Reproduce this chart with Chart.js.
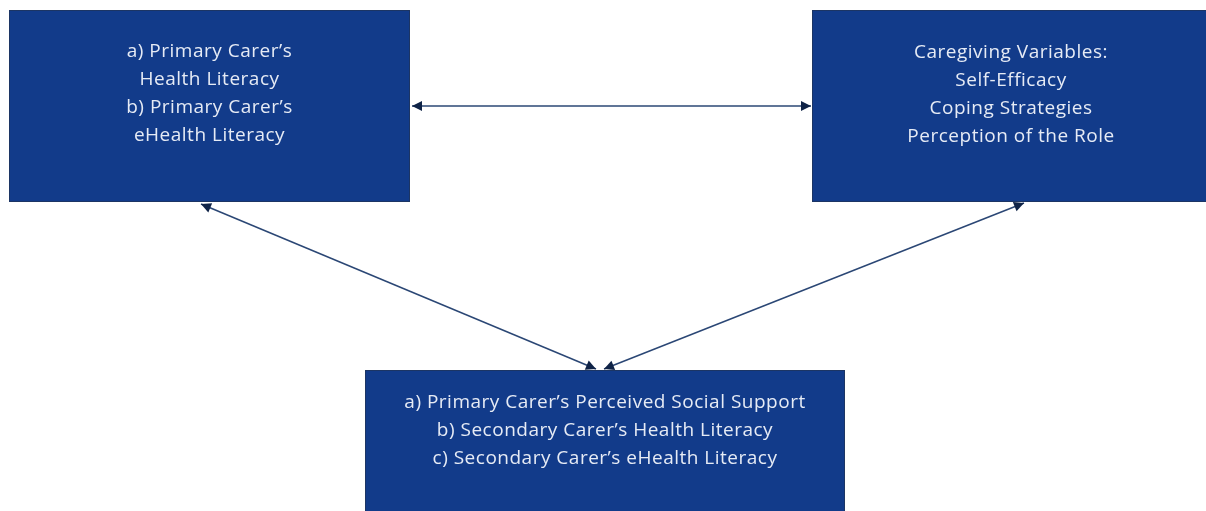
<!DOCTYPE html>
<html>
<head>
<meta charset="utf-8">
<script src="https://cdn.jsdelivr.net/npm/chart.js@4/dist/chart.umd.min.js"></script>
<style>
  html, body { margin: 0; padding: 0; background: #ffffff; }
  #wrap { width: 1206px; height: 511px; position: relative; }
</style>
</head>
<body>
<div id="wrap"><canvas id="myChart"></canvas></div>
<script>
// boxes of the diagram (page coordinates, y grows downwards)
const boxLeft   = [9, 812, 365];
const boxTop    = [10, 10, 370];
const boxRight  = [410, 1210, 845];
const boxBottom = [202, 202, 520];
const boxText = [
  ["a) Primary Carer\u2019s", "Health Literacy", "b) Primary Carer\u2019s", "eHealth Literacy"],
  ["Caregiving Variables:", "Self-Efficacy", "Coping Strategies", "Perception of the Role"],
  ["a) Primary Carer\u2019s Perceived Social Support", "b) Secondary Carer\u2019s Health Literacy", "c) Secondary Carer\u2019s eHealth Literacy"]
];
const textTop = [52, 53, 403];

// double-headed arrows between the boxes
const arrowX1 = [412, 201, 1024];
const arrowY1 = [106, 204, 203];
const arrowX2 = [811, 596, 604];
const arrowY2 = [106, 369, 369];

const arrowData = arrowX1.map((x, i) => [
  { x: x, y: arrowY1[i] },
  { x: arrowX2[i], y: arrowY2[i] }
]);

const boxPlugin = {
  id: 'boxes',
  beforeDatasetsDraw(chart) {
    const ctx = chart.ctx;
    const xs = chart.scales.x, ys = chart.scales.y;
    ctx.save();
    boxLeft.forEach((l, i) => {
      const x1 = xs.getPixelForValue(l), x2 = xs.getPixelForValue(boxRight[i]);
      const y1 = ys.getPixelForValue(boxTop[i]), y2 = ys.getPixelForValue(boxBottom[i]);
      ctx.fillStyle = '#123b8a';
      ctx.fillRect(x1, y1, x2 - x1, y2 - y1);
      ctx.strokeStyle = '#1c3564';
      ctx.lineWidth = 1;
      ctx.strokeRect(x1 + 0.5, y1 + 0.5, x2 - x1 - 1, y2 - y1 - 1);
      ctx.fillStyle = '#e6ebf5';
      ctx.font = '19px "Open Sans"';
      ctx.letterSpacing = '0.5px';
      ctx.textAlign = 'center';
      ctx.textBaseline = 'middle';
      const cx = (x1 + Math.min(x2, chart.width + 4)) / 2;
      boxText[i].forEach((t, j) => {
        ctx.fillText(t, cx, ys.getPixelForValue(textTop[i] + j * 28));
      });
    });
    ctx.restore();
  },
  afterDatasetsDraw(chart) {
    const ctx = chart.ctx;
    ctx.save();
    ctx.fillStyle = '#0f2347';
    chart.data.datasets.forEach((ds, i) => {
      const pts = chart.getDatasetMeta(i).data;
      const a = pts[0], b = pts[1];
      const head = (p, q) => {
        const ang = Math.atan2(p.y - q.y, p.x - q.x);
        const len = 10, w = 5;
        ctx.beginPath();
        ctx.moveTo(p.x, p.y);
        ctx.lineTo(p.x - len * Math.cos(ang) + w * Math.sin(ang), p.y - len * Math.sin(ang) - w * Math.cos(ang));
        ctx.lineTo(p.x - len * Math.cos(ang) - w * Math.sin(ang), p.y - len * Math.sin(ang) + w * Math.cos(ang));
        ctx.closePath();
        ctx.fill();
      };
      head(a, b);
      head(b, a);
    });
    ctx.restore();
  }
};

const ctx = document.getElementById('myChart');
new Chart(ctx, {
  type: 'scatter',
  data: {
    datasets: arrowData.map(d => ({
      data: d,
      showLine: true,
      borderColor: '#2b4775',
      borderWidth: 1.5,
      pointRadius: 0
    }))
  },
  options: {
    responsive: true,
    maintainAspectRatio: false,
    animation: false,
    layout: { padding: 0 },
    plugins: { legend: { display: false }, tooltip: { enabled: false } },
    scales: {
      x: { type: 'linear', min: 0, max: 1206, display: false },
      y: { type: 'linear', min: 0, max: 511, reverse: true, display: false }
    }
  },
  plugins: [boxPlugin]
});
</script>
</body>
</html>
